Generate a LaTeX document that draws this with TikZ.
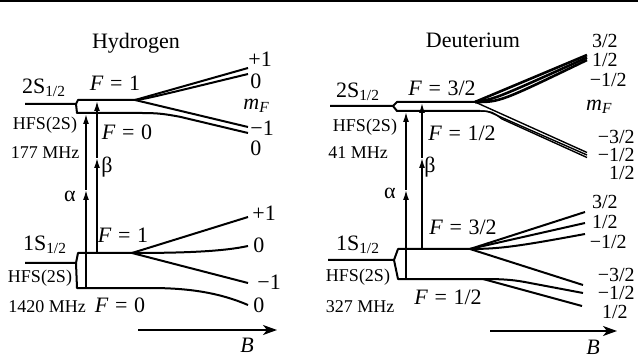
\documentclass[tikz,border=0pt]{standalone}
\usepackage{fontspec}
\setmainfont{Liberation Serif}
\usetikzlibrary{arrows.meta}

\newcommand{\Flab}[1]{\textit{F}\hspace{0.3em}=\hspace{0.3em}#1}
\newcommand{\mFlab}{\textit{m}\textsubscript{\textit{F}}}

\begin{document}
\begin{tikzpicture}[
		x=0.5pt, y=-0.5pt,
		every node/.style={font=\fontsize{11}{12}\selectfont, inner sep=0pt},
		small/.style={font=\fontsize{9}{10}\selectfont},
		frac/.style={font=\fontsize{10}{10}\selectfont},
		level/.style={line width=1pt, line join=round},
		branch/.style={line width=1pt},
		bundle/.style={line width=1.3pt},
		fine/.style={line width=0.7pt},
		trans/.style={line width=0.75pt, -{Latex[length=5pt,width=3pt]}},
		field/.style={line width=0.8pt, -{Stealth[length=7pt,width=5pt,inset=2pt]}}
	]
	\useasboundingbox (0,0) rectangle (638,358);
	\draw[line width=1.2pt] (0,1.2) -- (638,1.2);

	% ---------------- Hydrogen ----------------
	\node (htitle) at (136,43) {Hydrogen};

	% 2S level
	\coordinate (h2in) at (25,104);
	\coordinate (h2k) at (76,104);
	\coordinate (h2t) at (78,100);
	\coordinate (h2b) at (77,113);
	\coordinate (h2s) at (135,100);
	\coordinate (h2e) at (142,113);
	\draw[level] (h2in) -- (h2k) -- (h2t) -- (h2s);
	\draw[level] (h2k) -- (h2b) -- (h2e);
	\coordinate (h2p1) at (248,68);
	\coordinate (h2z1) at (248,74);
	\coordinate (h2m1) at (248,127);
	\coordinate (h2z0) at (248,133);
	\draw[branch] (h2s) -- (h2p1);
	\draw[branch] (h2s) .. controls (145,99) .. (h2z1);
	\draw[branch] (h2s) -- (h2m1);
	\draw[branch] (h2e) .. controls (158,113) and (165,114) .. (180,116.8) -- (h2z0);

	\node (h2name) at (44,88) {2S\textsubscript{1/2}};
	\node (h2F1) at (115,83) {\Flab{1}};
	\node (h2F0) at (127,132) {\Flab{0}};
	\node[small] (h2hfs) at (45,125) {HFS(2S)};
	\node[small] (h2mhz) at (45,153) {177 MHz};
	\node[anchor=west] (h2lp1) at (248,59) {+1};
	\node[anchor=west] (h2lz1) at (250,81) {0};
	\node[anchor=west] (h2mF) at (243,106) {\mFlab};
	\node[anchor=west] (h2lm1) at (250,128) {−1};
	\node[anchor=west] (h2lz0) at (250,148) {0};

	% 1S level
	\coordinate (h1in) at (25,263);
	\coordinate (h1k) at (76,263);
	\coordinate (h1t) at (78,253);
	\coordinate (h1b) at (77,288);
	\coordinate (h1s) at (132,253);
	\coordinate (h1e) at (150,288);
	\draw[level] (h1in) -- (h1k) -- (h1t) -- (h1s);
	\draw[level] (h1k) -- (h1b) -- (h1e);
	\coordinate (h1p1) at (248,217);
	\coordinate (h1z1) at (248,246);
	\coordinate (h1m1) at (248,283);
	\coordinate (h1z0) at (248,305);
	\draw[level] (h1s) -- (h1p1);
	\draw[level] (h1s) .. controls (190,253) and (225,251) .. (h1z1);
	\draw[level] (h1s) -- (h1m1);
	\draw[level] (h1e) .. controls (190,288) and (220,293) .. (h1z0);

	\node (h1name) at (45,245) {1S\textsubscript{1/2}};
	\node (h1F1) at (123,235) {\Flab{1}};
	\node (h1F0) at (120,305) {\Flab{0}};
	\node[small] (h1hfs) at (40,278) {HFS(2S)};
	\node[small] (h1mhz) at (47,307) {1420 MHz};
	\node[anchor=west] (h1lp1) at (252,213) {+1};
	\node[anchor=west] (h1lz1) at (253,245) {0};
	\node[anchor=west] (h1lm1) at (257,282) {−1};
	\node[anchor=west] (h1lz0) at (253,305) {0};

	% transitions
	\coordinate (hamid) at (86,190);
	\coordinate (hbmid) at (97,158);
	\draw[trans] (86,288) -- (hamid);
	\draw[trans] (hamid) -- (86,114);
	\draw[trans] (97,253) -- (hbmid);
	\draw[trans] (hbmid) -- (97,101);
	\node (halpha) at (70,196) {α};
	\node (hbeta) at (107,167) {β};

	% field axis
	\coordinate (hB0) at (138,330);
	\coordinate (hB1) at (277,330);
	\draw[field] (hB0) -- (hB1);
	\node (hB) at (247,345) {\textit{B}};

	% ---------------- Deuterium ----------------
	\node (dtitle) at (473,40) {Deuterium};

	% 2S level
	\coordinate (d2in) at (330,106);
	\coordinate (d2k) at (393,106);
	\coordinate (d2t) at (397,102);
	\coordinate (d2b) at (397,111);
	\coordinate (d2s) at (475,102);
	\coordinate (d2e) at (480,111);
	\draw[level] (d2in) -- (d2k) -- (d2t) -- (d2s);
	\draw[level] (d2k) -- (d2b) -- (d2e);
	\draw[bundle] (d2s) -- (587,55);
	\draw[bundle] (d2s) .. controls (495,99) .. (587,57.5);
	\draw[bundle] (d2s) .. controls (500,102) .. (587,60);
	\draw[fine] (d2s) -- (587,152.5);
	\draw[fine] (d2e) .. controls (487,111) .. (495,114.5) -- (587,155);
	\draw[fine] (d2e) .. controls (492,111.5) .. (502,119) -- (587,157.5);

	\node (d2name) at (358,92) {2S\textsubscript{1/2}};
	\node (d2F32) at (442,88) {\Flab{3/2}};
	\node (d2F12) at (462,133) {\Flab{1/2}};
	\node[small] (d2hfs) at (365,127) {HFS(2S)};
	\node[small] (d2mhz) at (358,153) {41 MHz};
	\node[frac, anchor=east] (d2l1) at (618,41) {3/2};
	\node[frac, anchor=east] (d2l2) at (618,60) {1/2};
	\node[frac, anchor=east] (d2l3) at (627,80) {−1/2};
	\node[anchor=east] (d2mF) at (613,107) {\mFlab};
	\node[frac, anchor=east] (d2l4) at (635,137) {−3/2};
	\node[frac, anchor=east] (d2l5) at (635,155) {−1/2};
	\node[frac, anchor=east] (d2l6) at (635,173) {1/2};

	% 1S level
	\coordinate (d1in) at (328,260);
	\coordinate (d1k) at (394,260);
	\coordinate (d1t) at (398,249);
	\coordinate (d1b) at (398,279);
	\coordinate (d1s) at (470,249);
	\coordinate (d1e) at (483,279);
	\draw[level] (d1in) -- (d1k) -- (d1t) -- (d1s);
	\draw[level] (d1k) -- (d1b) -- (d1e);
	\draw[level] (d1s) -- (585,212);
	\draw[level] (d1s) -- (585,223);
	\draw[level] (d1s) .. controls (500,249) and (520,246) .. (585,234);
	\draw[level] (d1s) -- (583,285);
	\draw[level] (d1e) .. controls (505,279) and (515,280) .. (530,283) -- (583,293);
	\draw[level] (d1e) -- (582,306);

	\node (d1name) at (358,245) {1S\textsubscript{1/2}};
	\node (d1F32) at (463,227) {\Flab{3/2}};
	\node (d1F12) at (448,297) {\Flab{1/2}};
	\node[small] (d1hfs) at (358,277) {HFS(2S)};
	\node[small] (d1mhz) at (360,307) {327 MHz};
	\node[frac, anchor=east] (d1l1) at (618,202) {3/2};
	\node[frac, anchor=east] (d1l2) at (618,222) {1/2};
	\node[frac, anchor=east] (d1l3) at (627,242) {−1/2};
	\node[frac, anchor=east] (d1l4) at (635,275) {−3/2};
	\node[frac, anchor=east] (d1l5) at (635,293) {−1/2};
	\node[frac, anchor=east] (d1l6) at (628,312) {1/2};

	% transitions
	\coordinate (damid) at (406,190);
	\coordinate (dbmid) at (422,158);
	\draw[trans] (406,279) -- (damid);
	\draw[trans] (damid) -- (406,112);
	\draw[trans] (422,249) -- (dbmid);
	\draw[trans] (dbmid) -- (422,103);
	\node (dalpha) at (390,193) {α};
	\node (dbeta) at (430,167) {β};

	% field axis
	\coordinate (dB0) at (490,331);
	\coordinate (dB1) at (617,331);
	\draw[field] (dB0) -- (dB1);
	\node (dB) at (593,347) {\textit{B}};
\end{tikzpicture}
\end{document}
